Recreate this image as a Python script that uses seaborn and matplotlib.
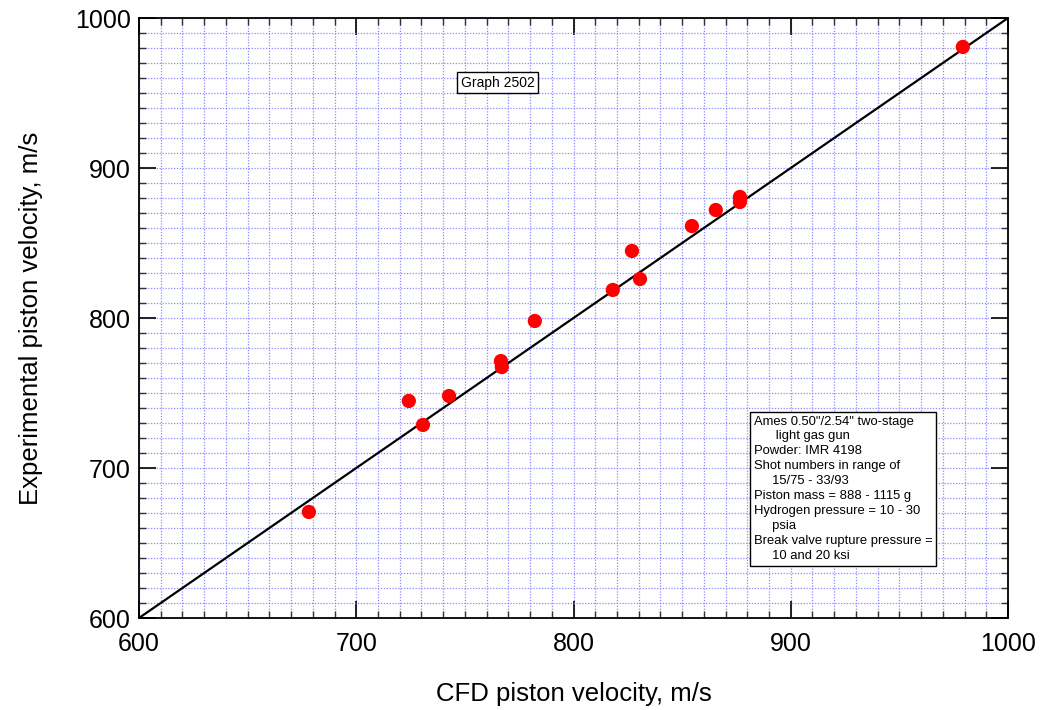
import matplotlib
matplotlib.use("Agg")
import matplotlib.pyplot as plt
import seaborn as sns
import pandas as pd
import numpy as np
from matplotlib.ticker import MultipleLocator

# Data
cfd_velocity = [678.2, 724.2, 730.7, 742.7, 766.6, 767.0, 782.2, 818.1,
                826.9, 830.6, 854.5, 865.5, 876.6, 876.6, 979.2]
exp_velocity = [670.7, 744.7, 728.7, 748.0, 771.3, 767.3, 798.0, 818.7,
                844.7, 826.0, 861.3, 872.0, 880.7, 877.3, 980.7]
line_x = [600, 1000]
line_y = [600, 1000]
x_ticks = [600, 700, 800, 900, 1000]
y_ticks = [600, 700, 800, 900, 1000]

x_label = "CFD piston velocity, m/s"
y_label = "Experimental piston velocity, m/s"
graph_tag = "Graph 2502"
note_lines = [
    "Ames 0.50\"/2.54\" two-stage",
    "      light gas gun",
    "Powder: IMR 4198",
    "Shot numbers in range of",
    "     15/75 - 33/93",
    "Piston mass = 888 - 1115 g",
    "Hydrogen pressure = 10 - 30",
    "     psia",
    "Break valve rupture pressure =",
    "     10 and 20 ksi",
]

sns.set_style("white")
plt.rcParams['font.family'] = ['Liberation Sans', 'DejaVu Sans']
plt.rcParams['text.color'] = 'black'
plt.rcParams['axes.labelcolor'] = 'black'
plt.rcParams['xtick.color'] = 'black'
plt.rcParams['ytick.color'] = 'black'

fig = plt.figure(figsize=(10.42, 7.10), dpi=100)
ax = fig.add_axes([139/1042, 1 - 618/710, (1008-139)/1042, (618-18)/710])

df = pd.DataFrame({"cfd": cfd_velocity, "exp": exp_velocity})
sns.lineplot(x=line_x, y=line_y, ax=ax, color="black", linewidth=1.6, zorder=3)
sns.scatterplot(data=df, x="cfd", y="exp", ax=ax, color="red", s=105,
                edgecolor="none", linewidth=0, zorder=4)

ax.set_xlim(600, 1000)
ax.set_ylim(600, 1000)
ax.set_xticks(x_ticks)
ax.set_yticks(y_ticks)
ax.xaxis.set_minor_locator(MultipleLocator(10))
ax.yaxis.set_minor_locator(MultipleLocator(10))

ax.grid(which="both", color="#7f7fff", linestyle=(0, (1, 1.3)), linewidth=0.9, alpha=0.9)
ax.set_axisbelow(True)

ax.tick_params(which="major", direction="in", length=12, width=1.2,
               top=True, right=True, bottom=True, left=True,
               labelsize=18, color="black", labelcolor="black")
ax.tick_params(axis="x", which="major", pad=10)
ax.tick_params(axis="y", which="major", pad=6)
ax.tick_params(which="minor", direction="in", length=5, width=1.0,
               top=True, right=True, bottom=True, left=True, color="#333333")

for sp in ax.spines.values():
    sp.set_color("black")
    sp.set_linewidth(1.3)

ax.set_xlabel(x_label, fontsize=18.5, labelpad=19, color="black")
ax.set_ylabel(y_label, fontsize=18.5, labelpad=23, color="black")

ax.text(765.2, 957, graph_tag, fontsize=10, ha="center", va="center",
        bbox=dict(boxstyle="square,pad=0.25", facecolor="white", edgecolor="black", linewidth=1.0),
        zorder=5)

ax.text(883.0, 735.0, "\n".join(note_lines), fontsize=9.4, ha="left", va="top",
        linespacing=1.33,
        bbox=dict(boxstyle="square,pad=0.3", facecolor="white", edgecolor="black", linewidth=1.0),
        zorder=5)

fig.savefig("out.png", dpi=100)
